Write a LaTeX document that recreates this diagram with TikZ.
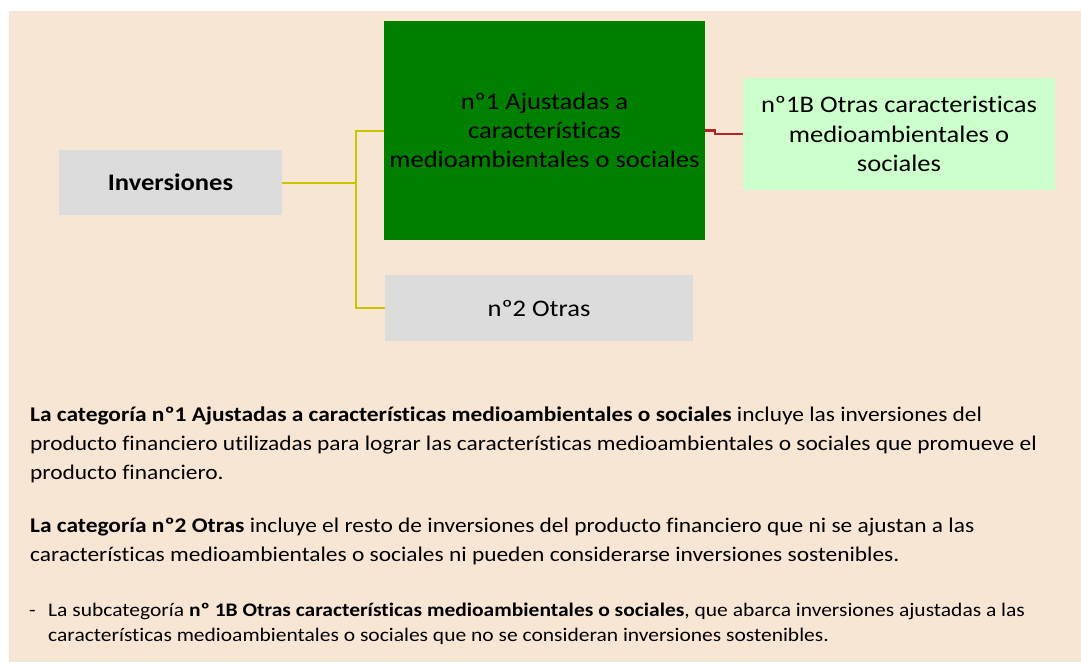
\documentclass[tikz,border=0pt]{standalone}
\usepackage{fontspec}
\setmainfont{Carlito}[Ligatures=CommonOff, FakeStretch=1.12]
\usetikzlibrary{positioning}

\definecolor{peach}{HTML}{F8E6D4}
\definecolor{boxgray}{HTML}{DCDCDC}
\definecolor{darkgreen}{HTML}{007F00}
\definecolor{palegreen}{HTML}{CCFFCC}
\definecolor{linkyellow}{HTML}{CCC400}
\definecolor{linkred}{HTML}{B0272A}

\tikzset{
	box/.style={inner sep=0pt, align=center, font=\fontsize{23.7}{29.3}\selectfont},
	yline/.style={linkyellow, line width=2pt},
	rline/.style={linkred, line width=2.5pt},
	para/.style={anchor=base west, inner sep=0pt, align=left, font=\fontsize{20.9}{29}\selectfont},
	bullet/.style={anchor=base west, inner sep=0pt, align=left, font=\fontsize{19.2}{25}\selectfont}
}

\begin{document}
\begin{tikzpicture}[x=1pt,y=-1pt]
%Hintergrund
\useasboundingbox (0,0) rectangle (1081,662);
\fill[white] (0,0) rectangle (1081,662);
\fill[peach] (9,11) rectangle (1081,662);

%Kaesten
\node[box, fill=boxgray, minimum width=223pt, minimum height=65pt] (inv) at (170.5,182.5) {\textbf{Inversiones}};
\node[box, fill=darkgreen, minimum width=321pt, minimum height=219pt] (n1) at (544.5,130.5) {nº1 Ajustadas a\\características\\medioambientales o sociales};
\node[box, fill=palegreen, minimum width=312pt, minimum height=112pt] (n1b) at (899,134) {nº1B Otras caracteristicas\\medioambientales o\\sociales};
\node[box, fill=boxgray, minimum width=308pt, minimum height=66pt] (n2) at (539,308) {nº2 Otras};

%Verbindungen
\coordinate (split) at (356,182.5);
\draw[yline] (inv.east) -- (split);
\draw[yline] (split) |- (n1.west);
\draw[yline] (split) |- (n2.west);
\draw[rline] (n1.east) -- ++(10,0) |- (n1b.west);

%Text (base = letzte Zeile)
\node[para] (t1) at (30,479.3) {\textbf{La categoría nº1 Ajustadas a características medioambientales o sociales} incluye las inversiones del\\producto financiero utilizadas para lograr las características medioambientales o sociales que promueve el\\producto financiero.};
\node[para] (t2) at (30,561.7) {\textbf{La categoría nº2 Otras} incluye el resto de inversiones del producto financiero que ni se ajustan a las\\características medioambientales o sociales ni pueden considerarse inversiones sostenibles.};
\node[bullet] (dash) at (29,616.7) {-};
\node[bullet] (t3) at (48,641.7) {La subcategoría \textbf{nº 1B Otras características medioambientales o sociales}, que abarca inversiones ajustadas a las\\características medioambientales o sociales que no se consideran inversiones sostenibles.};
\end{tikzpicture}
\end{document}
